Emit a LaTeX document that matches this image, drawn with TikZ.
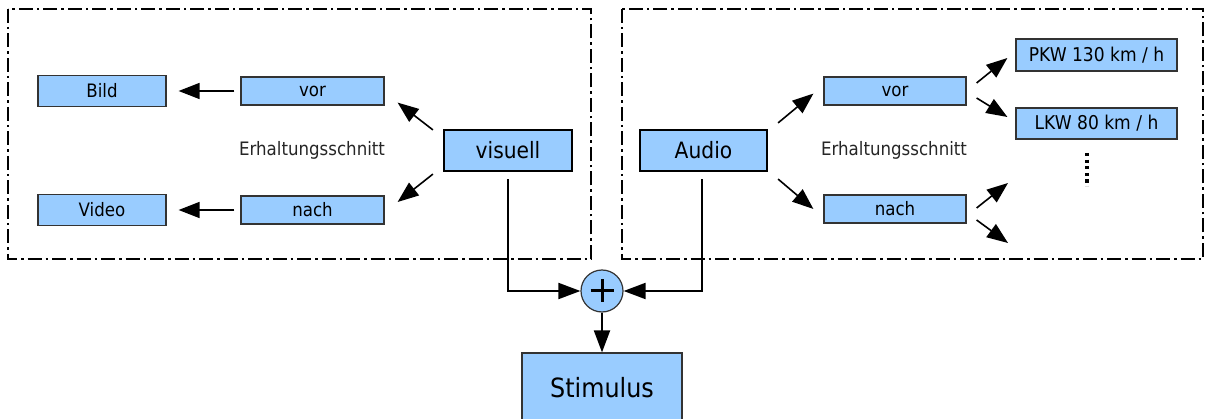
\documentclass[tikz,border=0pt]{standalone}
\usepackage{fontspec}
\setmainfont{DejaVu Sans}[FakeStretch=0.9]
\usetikzlibrary{arrows.meta,calc}
\definecolor{boxblue}{HTML}{99CCFF}
\definecolor{boxline}{HTML}{333333}
\tikzset{
  lbox/.style={draw=boxline,line width=1.2pt,fill=boxblue,inner sep=0pt,font=\fontsize{18.5}{21}\selectfont},
  bigbox/.style={draw=black,line width=2.2pt,fill=boxblue,inner sep=0pt,minimum width=128pt,minimum height=41pt,font=\fontsize{22.5}{25}\selectfont},
  frame/.style={line width=1.5pt,dash pattern=on 14pt off 4pt on 2.5pt off 4pt},
  thinarr/.style={line width=1.6pt,-{Triangle[length=21pt,width=16pt]}},
  thickarr/.style={line width=2pt,-{Triangle[length=22pt,width=16pt]}},
  plain/.style={font=\fontsize{18.5}{21}\selectfont,text=black!85},
}
\begin{document}
\begin{tikzpicture}[x=1pt,y=-1pt]
\useasboundingbox (0,0) rectangle (1206,419);
% frames
\draw[frame] (8,9) rectangle (591,259);
\draw[frame] (622,9) rectangle (1203,259);
% left group
\node[lbox,minimum width=128pt,minimum height=31pt] (bild) at (102,91) {Bild};
\node[lbox,minimum width=128pt,minimum height=31pt] (video) at (102,210) {Video};
\node[lbox,minimum width=143pt,minimum height=28pt] (vorL) at (312.5,91) {vor};
\node[lbox,minimum width=143pt,minimum height=28pt] (nachL) at (312.5,210) {nach};
\node[plain] (erhL) at (312,150) {Erhaltungsschnitt};
\node[bigbox] (vis) at (508,150.5) {visuell};
% right group
\node[bigbox,minimum width=127pt] (aud) at (703.5,150.5) {Audio};
\node[lbox,minimum width=142pt,minimum height=28pt] (vorR) at (895,91) {vor};
\node[lbox,minimum width=142pt,minimum height=28pt] (nachR) at (895,209) {nach};
\node[plain] (erhR) at (894,150) {Erhaltungsschnitt};
\node[lbox,minimum width=161pt,minimum height=32pt,font=\fontsize{19}{21}\selectfont] (pkw) at (1096.5,55) {PKW 130 km / h};
\node[lbox,minimum width=161pt,minimum height=31pt,font=\fontsize{19}{21}\selectfont] (lkw) at (1096.5,123.5) {LKW 80 km / h};
\draw[line width=3.2pt,dash pattern=on 3.2pt off 3.4pt] (1087,153) -- (1087,186);
\coordinate (f1) at (1008,183);
\coordinate (f2) at (1008,243);
% sum and stimulus
\node[draw=boxline,line width=1.2pt,fill=boxblue,circle,minimum size=42pt,inner sep=0pt] (plus) at (602,291) {};
\draw[line width=3pt] ($(plus.center)+(-11.5,0)$) -- ($(plus.center)+(11.5,0)$);
\draw[line width=3pt] ($(plus.center)+(0,-11.5)$) -- ($(plus.center)+(0,11.5)$);
\node[lbox,minimum width=160pt,minimum height=70pt,font=\fontsize{26.5}{29}\selectfont] (stim) at (602,388) {Stimulus};
% left arrows
\draw[thinarr,shorten <=6pt,shorten >=12pt] (vorL.west) -- (bild.east);
\draw[thinarr,shorten <=6pt,shorten >=12pt] (nachL.west) -- (video.east);
\draw[thinarr] ($(vis.north west)+(-10,1)$) -- ($(vorL.south east)+(13,-3)$);
\draw[thinarr] ($(vis.south west)+(-10,2)$) -- ($(nachL.east)+(13,-8)$);
% right arrows
\draw[thinarr] ($(aud.north east)+(10,-6)$) -- ($(vorR.south west)+(-10,-12)$);
\draw[thinarr] ($(aud.south east)+(10,7)$) -- ($(nachR.west)+(-10,0)$);
\draw[thinarr] ($(vorR.east)+(10,-8)$) -- ($(pkw.west)+(-8,3)$);
\draw[thinarr] ($(vorR.east)+(10,7)$) -- ($(lkw.west)+(-8,-6.5)$);
\draw[thinarr] ($(nachR.east)+(10,-1)$) -- (f1);
\draw[thinarr] ($(nachR.east)+(10,11)$) -- (f2);
% to sum
\draw[thickarr,shorten <=7pt] (vis.south) |- (plus.west);
\draw[thickarr,shorten <=7pt] ($(aud.south)+(-1.5,0)$) |- (plus.east);
\draw[thickarr] (plus.south) -- (stim.north);
\end{tikzpicture}
\end{document}
